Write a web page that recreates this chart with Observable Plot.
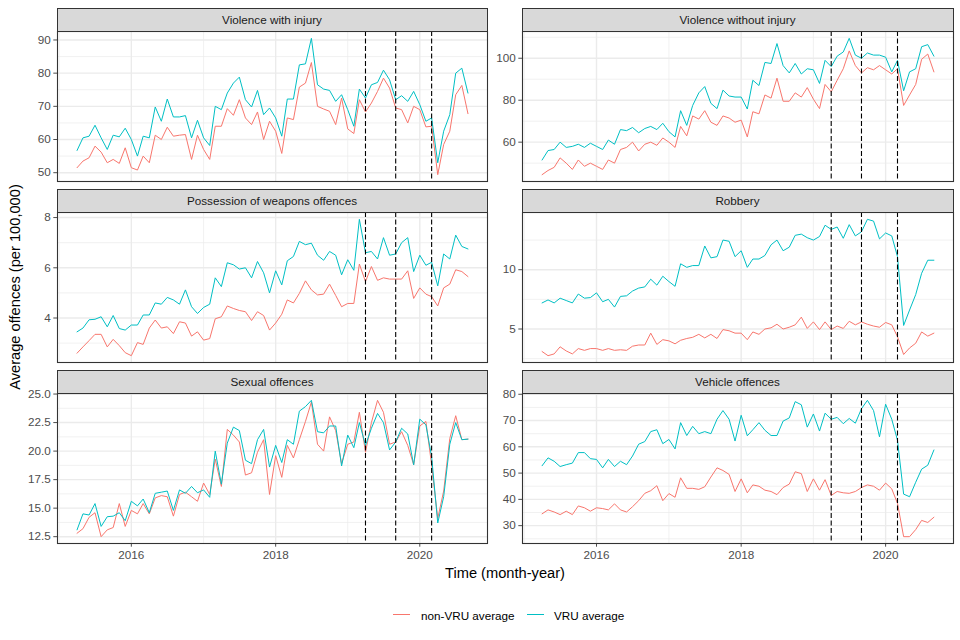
<!DOCTYPE html>
<html><head><meta charset="utf-8">
<script src="https://cdn.jsdelivr.net/npm/d3@7"></script>
<script src="https://cdn.jsdelivr.net/npm/@observablehq/plot@0.6"></script>
<style>
body{margin:0;background:#fff;}
#root{position:relative;width:960px;height:640px;font-family:"Liberation Sans",Arial,sans-serif;overflow:hidden;background:#fff;}
.strip{position:absolute;box-sizing:border-box;background:#D9D9D9;border:1px solid #333;color:#1A1A1A;font-size:11.7px;display:flex;align-items:center;justify-content:center;}
.cell{position:absolute;}
.abs{position:absolute;white-space:nowrap;}
</style></head><body><div id="root"></div>
<script>
const months = ["2015-04","2015-05","2015-06","2015-07","2015-08","2015-09","2015-10","2015-11","2015-12",
"2016-01","2016-02","2016-03","2016-04","2016-05","2016-06","2016-07","2016-08","2016-09","2016-10","2016-11","2016-12",
"2017-01","2017-02","2017-03","2017-04","2017-05","2017-06","2017-07","2017-08","2017-09","2017-10","2017-11","2017-12",
"2018-01","2018-02","2018-03","2018-04","2018-05","2018-06","2018-07","2018-08","2018-09","2018-10","2018-11","2018-12",
"2019-01","2019-02","2019-03","2019-04","2019-05","2019-06","2019-07","2019-08","2019-09","2019-10","2019-11","2019-12",
"2020-01","2020-02","2020-03","2020-04","2020-05","2020-06","2020-07","2020-08","2020-09"];
const dashedMonths = ["2019-04","2019-09","2020-03"];
const xMajorMonths = ["2016-01","2018-01","2020-01"];
const xMinorMonths = ["2015-01","2017-01","2019-01"];
const seriesNames = ["non-VRU average","VRU average"];
const seriesColors = ["#F8766D","#00BFC4"];

const titles = ["Violence with injury","Violence without injury","Possession of weapons offences","Robbery","Sexual offences","Vehicle offences"];

const vwiVRU = [56.7,60.5,61,64.3,60.5,57,61.3,60.8,63.4,60,55,61,60.5,69.8,65.5,72.2,66.8,66.8,67.2,60.5,65.8,60.5,58.2,70,69,74,77,78.8,72,69.8,74.8,67.5,69.5,66.5,61,72.2,72.2,82.5,82.8,90.5,76.5,75.2,74.8,71.5,73.5,69,64,75.2,72.5,76.5,77.2,80.9,78,72,73.2,71.5,74.5,70.5,65.5,66.5,53,62.5,67.5,80,81.5,74];
const vwiNon = [51.5,53.5,54.5,58,56.2,53,54,52.8,57.5,51.5,50.8,55,53,61.3,60,63.7,61,61.3,61.5,54,61.3,57,54,64,64,69.3,67.3,72,66.5,64.5,68.3,60,65.5,62.5,55.8,66.5,66,75.8,77,83.2,70,69.2,68.5,64.5,72.5,63.2,61.8,72,68.3,71,74.5,78.5,75.5,69.5,69,65,70,69,63.8,64,49.4,58.5,62.5,73.5,76.3,67.8];

const vwoiVRU = [51.5,56,56.5,60,57.5,58,59,57.5,59.5,58,56.5,61,59,66,65.5,67,64.5,66.5,67.5,66,69,65,62.5,75,68,77.5,83.5,86.5,78.5,76,84.8,82,81.5,81.5,75.8,89.5,87,98,97.5,107,96.5,93,97.5,92.5,95,94.5,88,99,96,101,103,109.5,101.5,100,102.5,101.5,101.5,100.5,93.5,99,84.5,93.5,95,105.5,106.5,101];
const vwoiNon = [44.5,46.5,48,52.5,50,47,51.5,48.5,50,48.5,47,51.5,50,56.5,57.5,60,55.8,59,60,58.5,62,60,57.5,67.5,63,72.5,71,75,69.5,68,72.5,71.5,69.5,70.5,62.5,74.5,73.5,82.5,81,90.5,79.5,79.5,83.5,81.5,86,80.5,76,87.5,84,89.5,95,103.5,96.5,93,95.5,94.5,96.5,94.5,92.5,95,77.5,82.5,87.5,99.5,102,93.5];

const weapVRU = [3.45,3.6,3.93,3.95,4.05,3.65,4.1,3.58,3.52,3.72,3.72,4.12,4.12,4.6,4.55,4.82,4.72,4.55,5.12,4.45,4.18,4.42,4.55,5.6,5.25,6.2,6.12,5.95,6.0,5.6,6.25,5.8,5.0,5.88,5.32,6.28,6.45,7.05,6.92,6.98,6.5,6.3,6.65,6.5,5.72,6.32,5.9,7.93,6.6,6.65,6.35,7.2,6.5,6.55,7.0,7.2,5.85,6.5,6.1,6.22,5.28,6.55,6.35,7.3,6.85,6.75];
const weapNon = [2.6,2.85,3.1,3.35,3.35,2.85,3.15,2.9,2.62,2.5,3.02,2.95,3.6,3.92,3.6,3.65,3.38,3.85,3.8,3.28,3.45,3.12,3.18,3.97,4.05,4.48,4.38,4.3,4.25,3.9,4.25,4.1,3.52,3.8,4.15,4.72,4.6,4.98,5.48,5.12,4.92,4.95,5.35,4.9,4.45,4.58,4.58,6.15,5.45,6.05,5.5,5.6,5.55,5.55,5.55,5.88,4.78,5.2,4.95,4.85,4.48,5.2,5.35,5.92,5.85,5.65];

const robVRU = [7.2,7.45,7.2,7.6,7.4,7.2,7.95,7.6,7.65,8.05,7.3,7.5,6.85,7.75,7.8,8.2,8.45,8.55,9.2,8.7,9.45,9.0,8.6,10.5,10.2,10.35,10.35,12.0,11.0,11.1,12.5,12.4,11.1,11.6,10.2,10.9,10.9,11.2,12.1,12.5,11.6,11.9,12.9,13.0,12.7,12.5,12.8,13.75,13.4,13.6,12.65,13.8,12.85,13.2,14.25,14.1,12.6,13.1,12.85,11.1,5.3,6.6,7.9,9.7,10.8,10.8];
const robNon = [3.1,2.75,2.9,3.5,3.15,2.9,3.35,3.2,3.35,3.35,3.2,3.35,3.2,3.25,3.2,3.55,3.65,3.65,4.65,3.7,4.1,4.0,3.75,4.05,4.2,4.3,4.55,4.25,4.55,4.2,4.95,4.85,4.65,4.65,4.1,4.75,4.55,5.0,5.1,5.4,5.0,5.15,5.35,6.0,5.05,5.6,4.95,5.6,4.95,5.25,5.05,5.65,5.35,5.6,5.4,5.25,5.15,5.55,5.35,4.35,2.85,3.4,3.8,4.75,4.4,4.65];

const sexVRU = [13.1,14.5,14.4,15.4,13.4,14.25,14.3,14.6,13.9,15.6,15.2,15.8,14.6,16.3,16.4,16.5,14.8,16.6,16.3,16.9,16.35,16.6,15.95,20.0,17.1,20.7,22.1,21.8,19.2,18.9,21.0,21.9,18.6,20.5,19.0,21.0,20.6,23.5,23.9,24.45,21.7,21.6,22.2,22.2,18.7,21.4,20.3,22.5,20.5,22,23.3,22.5,20.1,20.8,22.0,21.5,18.8,22.8,22.3,19.5,13.7,16,20.6,22.5,21.0,21.05];
const sexNon = [12.8,13.2,14.2,14.6,12.5,13.1,13.3,15.4,13.4,14.8,14.5,15.4,14.5,15.9,16.1,16.0,14.3,16.2,16.4,16.0,15.6,17.2,16.2,19.3,16.9,21.9,21.4,20.8,17.9,18.1,19.9,21.0,16.2,19.6,17.7,20.5,19.4,21.0,22.6,24.3,20.6,20.0,23.0,21.8,18.9,20.6,20.8,23.4,19.9,22.5,24.45,23.4,20.6,20.8,21.7,20.5,18.8,22.2,22.6,18.8,14.1,16.5,21.1,23.1,21.0,21.05];

const vehVRU = [52.8,55.8,54.5,52.5,53.2,53.8,57.8,57.8,55.5,55.2,52,55.2,52.5,54.5,53.2,56.5,61,62,65.8,66.5,61.2,62.8,59.2,69.2,64.3,67.8,65,65.8,65,70.5,73.8,70.5,62.2,72,64.2,66.5,69.2,66.3,64.3,64.3,69.8,71,77.2,76,67.5,72.5,66,72.8,70.5,71.2,68.8,70.8,69,74.5,77.7,73.8,63.8,76.2,70.5,62.5,42,41,46.5,51.5,53,58.8];
const vehNon = [34.5,36,35.2,34.2,35.5,34.2,37.5,36.8,35.5,36.8,36.5,36,38.3,36,35.2,37.2,39.5,42.3,43.3,45.2,39.5,42.2,40.8,48.2,44.2,44.2,43.8,44.8,48.5,52,51,49.5,43,47.8,42.5,45.5,45,43.5,43,41.8,44.5,45.8,50.5,49.8,43,47.8,43.5,47.5,41.5,43,42.5,42.3,43,44.5,45.5,45,43.5,46.2,44,38.5,25.8,25.8,28.5,32,31.2,33.2];

const vwiTicks = [50,60,70,80,90], vwiMinor = [55,65,75,85];
const vwoiTicks = [60,80,100], vwoiMinor = [50,70,90,110];
const weapTicks = [4,6,8], weapMinor = [3,5,7];
const robTicks = [5,10], robMinor = [2.5,7.5,12.5];
const sexTicks = [12.5,15,17.5,20,22.5,25], sexMinor = [13.75,16.25,18.75,21.25,23.75];
const vehTicks = [30,40,50,60,70,80], vehMinor = [25,35,45,55,65,75];

// ---------- build ----------
const parseMonth = d3.utcParse("%Y-%m");
const dates = months.map(parseMonth);
const xExt = d3.extent(dates);
const xPad = (xExt[1] - xExt[0]) * 0.05;
const xDomain = [new Date(+xExt[0] - xPad), new Date(+xExt[1] + xPad)];
const xMajor = xMajorMonths.map(parseMonth);
const xMinor = xMinorMonths.map(parseMonth).filter(d => d >= xDomain[0] && d <= xDomain[1]);
const dashed = dashedMonths.map(parseMonth);
const intFmt = d3.format("~g");

const panels = [
  {title: titles[0], vru: vwiVRU, non: vwiNon, ticks: vwiTicks, minor: vwiMinor, fmt: intFmt},
  {title: titles[1], vru: vwoiVRU, non: vwoiNon, ticks: vwoiTicks, minor: vwoiMinor, fmt: intFmt},
  {title: titles[2], vru: weapVRU, non: weapNon, ticks: weapTicks, minor: weapMinor, fmt: intFmt},
  {title: titles[3], vru: robVRU, non: robNon, ticks: robTicks, minor: robMinor, fmt: intFmt},
  {title: titles[4], vru: sexVRU, non: sexNon, ticks: sexTicks, minor: sexMinor, fmt: d3.format(".1f")},
  {title: titles[5], vru: vehVRU, non: vehNon, ticks: vehTicks, minor: vehMinor, fmt: intFmt}
];

const cols = [{left: 0, width: 490, mL: 57, mR: 3}, {left: 490, width: 470, mL: 32, mR: 7}];
const rowTops = [31, 212, 393];
const panelH = 150;
const font = '"Liberation Sans", Arial, sans-serif';
const root = document.getElementById("root");

panels.forEach((p, k) => {
  const col = cols[k % 2], r = Math.floor(k / 2);
  const bottom = r === 2;
  const mt = 8, mb = bottom ? 30 : 6;
  const [lo, hi] = d3.extent(p.vru.concat(p.non));
  const pad = (hi - lo) * 0.05;
  const yDomain = [lo - pad, hi + pad];
  const inY = v => v >= yDomain[0] && v <= yDomain[1];
  const rows = (arr, g) => arr.map((v, i) => ({date: dates[i], value: v, group: g}));
  const chart = Plot.plot({
    width: col.width, height: panelH + mt + mb,
    marginLeft: col.mL, marginRight: col.mR, marginTop: mt, marginBottom: mb,
    style: {background: "none", fontFamily: font, fontSize: "11.7px", color: "#4D4D4D", overflow: "visible"},
    x: {type: "utc", domain: xDomain, ticks: xMajor, tickFormat: d3.utcFormat("%Y"), tickSize: 3.7, tickPadding: 3, label: null, axis: bottom ? "bottom" : null},
    y: {domain: yDomain, ticks: p.ticks.filter(inY), tickFormat: p.fmt, tickSize: 3.7, tickPadding: 3, label: null},
    marks: [
      Plot.ruleY(p.minor.filter(inY), {stroke: "#EBEBEB", strokeWidth: 0.7}),
      Plot.ruleX(xMinor, {stroke: "#EBEBEB", strokeWidth: 0.7}),
      Plot.ruleY(p.ticks.filter(inY), {stroke: "#EBEBEB", strokeWidth: 1.4}),
      Plot.ruleX(xMajor, {stroke: "#EBEBEB", strokeWidth: 1.4}),
      Plot.line(rows(p.non, seriesNames[0]), {x: "date", y: "value", stroke: seriesColors[0], strokeWidth: 1}),
      Plot.line(rows(p.vru, seriesNames[1]), {x: "date", y: "value", stroke: seriesColors[1], strokeWidth: 1}),
      Plot.ruleX(dashed, {stroke: "#000", strokeWidth: 1.1, strokeDasharray: "5,2.5"}),
      Plot.frame({stroke: "#333333", strokeWidth: 1.1})
    ]
  });
  const cell = document.createElement("div");
  cell.className = "cell";
  cell.style.left = col.left + "px";
  cell.style.top = (rowTops[r] - mt) + "px";
  cell.style.width = col.width + "px";
  cell.appendChild(chart);
  root.appendChild(cell);
});

panels.forEach((p, k) => {
  const col = cols[k % 2], r = Math.floor(k / 2);
  const strip = document.createElement("div");
  strip.className = "strip";
  const pl = col.left + col.mL, pw = col.width - col.mL - col.mR;
  strip.style.left = (pl - 0.5) + "px";
  strip.style.width = (pw + 1) + "px";
  strip.style.top = (rowTops[r] - 23.5) + "px";
  strip.style.height = "24px";
  strip.textContent = p.title;
  root.appendChild(strip);
});

// axis titles
const xt = document.createElement("div");
xt.className = "abs";
xt.style.cssText += "left:505px;top:573px;transform:translate(-50%,-50%);font-size:14.67px;color:#000;";
xt.textContent = "Time (month-year)";
root.appendChild(xt);

const yt = document.createElement("div");
yt.className = "abs";
yt.style.cssText += "left:15px;top:287px;transform:translate(-50%,-50%) rotate(-90deg);font-size:14.67px;color:#000;";
yt.textContent = "Average offences (per 100,000)";
root.appendChild(yt);

// legend
const legendPos = [{key: 393, text: 421}, {key: 527, text: 554}];
seriesNames.forEach((name, i) => {
  const key = document.createElement("div");
  key.className = "abs";
  key.style.cssText += `left:${legendPos[i].key}px;top:613.5px;width:17px;height:1px;background:${seriesColors[i]};`;
  root.appendChild(key);
  const t = document.createElement("div");
  t.className = "abs";
  t.style.cssText += `left:${legendPos[i].text}px;top:614.5px;transform:translateY(-50%);font-size:11.7px;color:#000;`;
  t.textContent = name;
  root.appendChild(t);
});
</script>
</body></html>
